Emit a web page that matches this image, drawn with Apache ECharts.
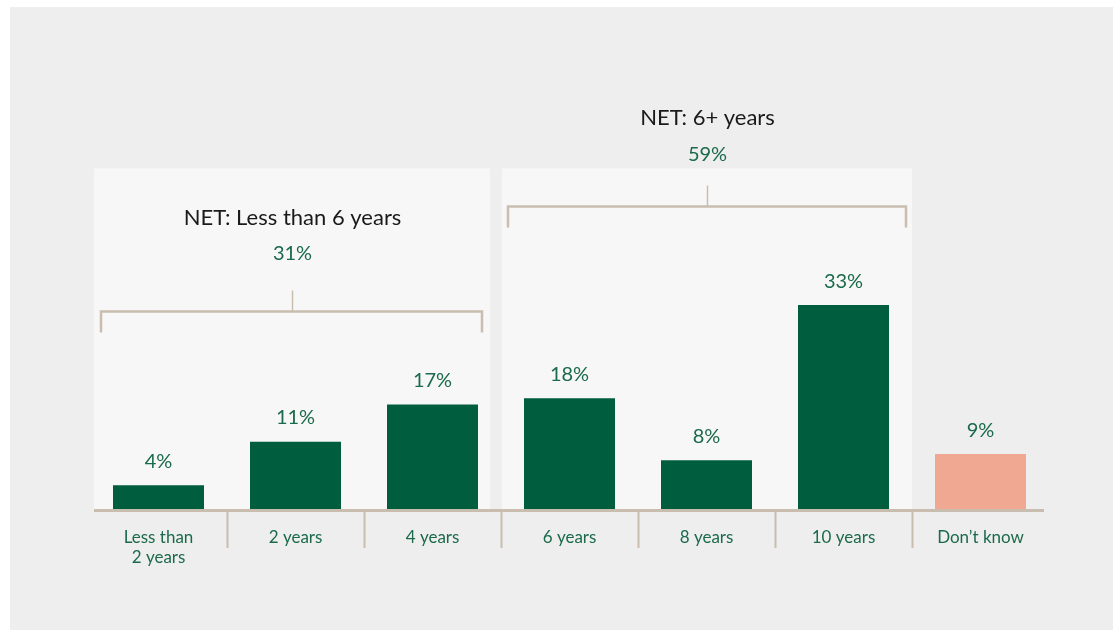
<!DOCTYPE html>
<html>
<head>
<meta charset="utf-8">
<script src="https://cdn.jsdelivr.net/npm/echarts@6/dist/echarts.min.js"></script>
<style>
  html, body { margin: 0; padding: 0; background: #ffffff; }
  #chart { width: 1113px; height: 630px; }
</style>
</head>
<body>
<div id="chart"></div>
<script>
// Categories and shares (%)
const categories = ['Less than\n2 years', '2 years', '4 years', '6 years', '8 years', '10 years', 'Don\u2019t know'];
const shares = [4, 11, 17, 18, 8, 33, 9];
const barColors = ['#005e3e', '#005e3e', '#005e3e', '#005e3e', '#005e3e', '#005e3e', '#f0a893'];

// NET groupings
const netTitles = ['NET: Less than 6 years', 'NET: 6+ years'];
const netValues = [31, 59];
const netFrom = [0, 3];   // first category index in group
const netTo = [2, 5];     // last category index in group

// Drawing layout for the group annotations
const groupLayout = [
  { bracketLevel: 32, inset: [11, 19], panelInset: [4, 11], pctOffset: 58, titleOffset: 94 },
  { bracketLevel: 49, inset: [7, 6], panelInset: [1, 0], pctOffset: 52, titleOffset: 89 }
];
const panelTop = 55;

const GREEN_TEXT = '#1b6a4c';
const BRACKET = '#c9bdb0';
const FONT = 'Lato, "Noto Sans", sans-serif';

const chart = echarts.init(document.getElementById('chart'), null, { renderer: 'canvas' });

const option = {
  backgroundColor: '#ffffff',
  animation: false,
  grid: { left: 90, right: 64, top: 137.4, bottom: 120, containLabel: false },
  xAxis: {
    type: 'category',
    data: categories,
    axisLine: { show: false },
    axisTick: { show: false },
    axisLabel: {
      interval: 0,
      color: GREEN_TEXT,
      fontFamily: FONT,
      fontSize: 17,
      lineHeight: 20,
      margin: 18
    },
    z: 3
  },
  yAxis: {
    type: 'value',
    min: 0,
    max: 60,
    show: false,
    splitLine: { show: false }
  },
  series: [{
    type: 'bar',
    data: shares.map((v, i) => ({ value: v, itemStyle: { color: barColors[i] } })),
    barWidth: 91,
    z: 2,
    label: {
      show: true,
      position: 'top',
      distance: 14,
      formatter: p => p.value + '%',
      color: GREEN_TEXT,
      fontFamily: FONT,
      fontSize: 20
    }
  }]
};

chart.setOption(option);

// Annotations placed through the chart's own coordinate system
function px(catIndex, value) {
  return chart.convertToPixel({ xAxisIndex: 0, yAxisIndex: 0 }, [catIndex, value]);
}

function buildGraphics() {
  const band = px(1, 0)[0] - px(0, 0)[0];
  const base = px(0, 0)[1];
  const axisStart = px(0, 0)[0] - band / 2 + 4;
  const axisEnd = px(categories.length - 1, 0)[0] + band / 2 - 5;
  const els = [];

  // grey canvas area
  els.push({
    type: 'rect', z: -100, silent: true,
    shape: { x: 10, y: 7, width: 1113 - 10, height: 630 - 7 },
    style: { fill: '#eeeeee' }
  });

  // baseline
  els.push({
    type: 'line', z: 6, silent: true,
    shape: { x1: axisStart, y1: base + 0.5, x2: axisEnd, y2: base + 0.5 },
    style: { stroke: BRACKET, lineWidth: 3 }
  });

  // separators between categories
  for (let i = 0; i < categories.length - 1; i++) {
    const x = Math.round((px(i, 0)[0] + px(i + 1, 0)[0]) / 2) + 0.5;
    els.push({
      type: 'line', z: 5, silent: true,
      shape: { x1: x, y1: base, x2: x, y2: base + 38 },
      style: { stroke: BRACKET, lineWidth: 2 }
    });
  }

  netTitles.forEach((title, g) => {
    const L = groupLayout[g];
    const left = px(netFrom[g], 0)[0] - band / 2;
    const right = px(netTo[g], 0)[0] + band / 2;
    const top = px(0, panelTop)[1];

    // light panel behind the group
    els.push({
      type: 'rect', z: -50, silent: true,
      shape: { x: left + L.panelInset[0], y: top, width: (right - L.panelInset[1]) - (left + L.panelInset[0]), height: base - top },
      style: { fill: '#f7f7f7' }
    });

    // bracket
    const by = Math.round(px(0, L.bracketLevel)[1]) + 0.5;
    const bx1 = left + L.inset[0];
    const bx2 = right - L.inset[1];
    const mid = Math.round((bx1 + bx2) / 2) + 0.5;
    els.push({
      type: 'polyline', z: 5, silent: true,
      shape: { points: [[bx1, by + 21], [bx1, by], [bx2, by], [bx2, by + 21]] },
      style: { stroke: BRACKET, lineWidth: 2.5, fill: null }
    });
    els.push({
      type: 'line', z: 5, silent: true,
      shape: { x1: mid, y1: by, x2: mid, y2: by - 21 },
      style: { stroke: BRACKET, lineWidth: 1.5 }
    });

    // net value and title
    els.push({
      type: 'text', z: 5, silent: true,
      x: mid, y: by - L.pctOffset,
      style: { text: netValues[g] + '%', fill: GREEN_TEXT, font: '20px ' + FONT, align: 'center', verticalAlign: 'middle' }
    });
    els.push({
      type: 'text', z: 5, silent: true,
      x: mid, y: by - L.titleOffset,
      style: { text: title, fill: '#1a1a1a', font: '22px ' + FONT, align: 'center', verticalAlign: 'middle' }
    });
  });

  chart.setOption({ graphic: { elements: els } });
}

buildGraphics();
</script>
</body>
</html>
